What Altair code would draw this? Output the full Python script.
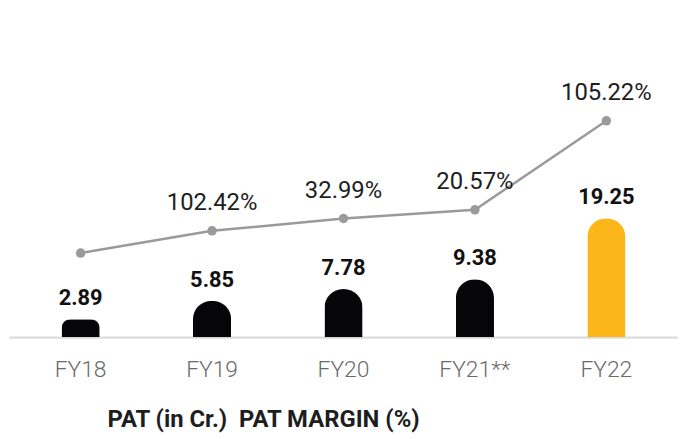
import altair as alt
import pandas as pd

years = ["FY18", "FY19", "FY20", "FY21**", "FY22"]
pat = [2.89, 5.85, 7.78, 9.38, 19.25]
bar_colors = ["#060608", "#060608", "#060608", "#060608", "#FBB61A"]
# line position (read in bar units from picture) and its label
margin_pos = [13.6, 17.2, 19.2, 20.6, 35.0]
margin_lbl = ["", "102.42%", "32.99%", "20.57%", "105.22%"]

df = pd.DataFrame({
    "year": years, "pat": pat, "color": bar_colors,
    "mpos": margin_pos, "mlbl": margin_lbl,
    "patlbl": [f"{v:.2f}" for v in pat],
})

FONT = "Roboto"
x = alt.X("year:N", sort=years,
          scale=alt.Scale(paddingInner=0.71, paddingOuter=0.40),
          axis=alt.Axis(title="PAT (in Cr.)\u00a0 PAT MARGIN (%)", labelAngle=0,
                        labelFont=FONT, labelFontSize=23, labelColor="#6a6a6a",
                        labelFontWeight=300, labelPadding=22, ticks=False,
                        domainColor="#dcdcdc", domainWidth=2.5,
                        titleFont=FONT, titleFontSize=24, titleFontWeight="bold",
                        titleColor="#1e1e1e", titleX=256, titleY=83,
                        titleBaseline="middle", titleAnchor="middle", titleAlign="center"))
y = alt.Y("pat:Q", scale=alt.Scale(domain=[0, 53], nice=False, zero=True), axis=None)

bars = alt.Chart(df).mark_bar(cornerRadiusTopLeft=19, cornerRadiusTopRight=19).encode(
    x=x, y=y, color=alt.Color("color:N", scale=None))

bar_text = alt.Chart(df).mark_text(font=FONT, fontSize=22, fontWeight="bold",
                                   color="#111111", baseline="middle", dy=-21).encode(
    x=x, y=y, text="patlbl:N")

ym = alt.Y("mpos:Q", scale=alt.Scale(domain=[0, 53], nice=False), axis=None)
line = alt.Chart(df).mark_line(color="#9a9a9a", strokeWidth=2.5).encode(x=x, y=ym)
pts = alt.Chart(df).mark_point(filled=True, color="#9a9a9a", size=90, opacity=1).encode(x=x, y=ym)
mtext = alt.Chart(df).mark_text(font=FONT, fontSize=24, color="#1e1e1e",
                                baseline="middle", dy=-28).encode(x=x, y=ym, text="mlbl:N")

chart = alt.layer(bars, bar_text, line, pts, mtext).properties(
    width=674, height=330,
    padding={"left": 1, "top": 0, "right": 0, "bottom": 0},
).configure_view(stroke=None)

chart.save("out.html", embed_options={"renderer": "svg", "actions": False})
